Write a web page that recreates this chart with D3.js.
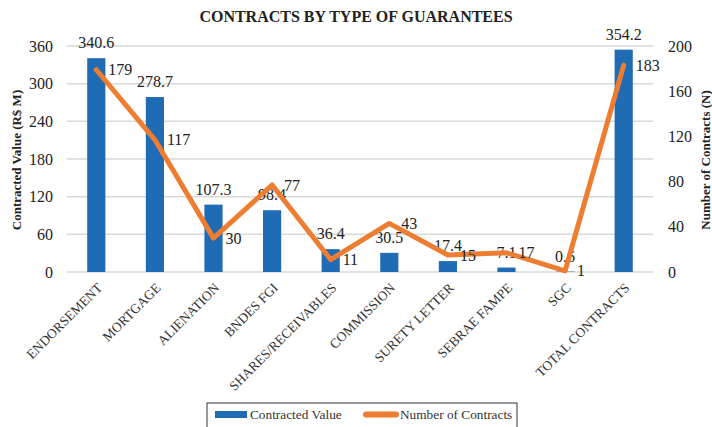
<!DOCTYPE html>
<html>
<head>
<meta charset="utf-8">
<script src="https://cdn.jsdelivr.net/npm/d3@7"></script>
<style>
  body { margin: 0; background: #fff; }
  svg text { font-family: "Liberation Serif", "Times New Roman", serif; fill: #222; }
</style>
</head>
<body>
<svg id="chart" width="712" height="427"></svg>
<script>
// datos del grafico
const categories = ["ENDORSEMENT", "MORTGAGE", "ALIENATION", "BNDES FGI", "SHARES/RECEIVABLES",
  "COMMISSION", "SURETY LETTER", "SEBRAE FAMPE", "SGC", "TOTAL CONTRACTS"];
const contractedValue = [340.6, 278.7, 107.3, 98.4, 36.4, 30.5, 17.4, 7.1, 0.6, 354.2];
const numberOfContracts = [179, 117, 30, 77, 11, 43, 15, 17, 1, 183];
const leftTicks = [0, 60, 120, 180, 240, 300, 360];
const rightTicks = [0, 40, 80, 120, 160, 200];

const blue = "#1f6cb5";
const orange = "#ed7d31";
const serif = "Liberation Serif";

const svg = d3.select("#chart");
const plotLeft = 67, plotRight = 653, plotTop = 46, plotBottom = 272;

const x = d3.scaleBand().domain(categories).range([plotLeft, plotRight]).paddingInner(0.69).paddingOuter(0.345);
const yL = d3.scaleLinear().domain([0, 360]).range([plotBottom, plotTop]);
const yR = d3.scaleLinear().domain([0, 200]).range([plotBottom, plotTop]);
const cx = d => x(d) + x.bandwidth() / 2;

// titulo
svg.append("text")
  .attr("x", 356).attr("y", 22)
  .attr("text-anchor", "middle")
  .style("font-size", "16px").style("font-weight", "bold")
  .text("CONTRACTS BY TYPE OF GUARANTEES");

// lineas de la grilla
svg.append("g").selectAll("line")
  .data(leftTicks)
  .enter().append("line")
  .attr("x1", plotLeft).attr("x2", plotRight)
  .attr("y1", d => yL(d)).attr("y2", d => yL(d))
  .style("stroke", "#d9d9d9").style("stroke-width", 1.5);

// eje izquierdo
const axL = svg.append("g").attr("transform", `translate(${plotLeft - 14},0)`)
  .call(d3.axisLeft(yL).tickValues(leftTicks).tickSize(0).tickPadding(0));
axL.select(".domain").remove();
axL.selectAll("text").style("font-size", "16px").style("font-family", serif).style("fill", "#222");

// eje derecho
const axR = svg.append("g").attr("transform", `translate(${plotRight + 15},0)`)
  .call(d3.axisRight(yR).tickValues(rightTicks).tickSize(0).tickPadding(0));
axR.select(".domain").remove();
axR.selectAll("text").style("font-size", "16px").style("font-family", serif).style("fill", "#222");

// titulos de ejes
svg.append("text")
  .attr("transform", `translate(21,160) rotate(-90)`)
  .attr("text-anchor", "middle")
  .style("font-size", "13px").style("font-weight", "bold")
  .text("Contracted Value (R$ M)");
svg.append("text")
  .attr("transform", `translate(710,160) rotate(-90)`)
  .attr("text-anchor", "middle")
  .style("font-size", "13px").style("font-weight", "bold")
  .text("Number of Contracts (N)");

// barras
svg.append("g").selectAll("rect")
  .data(categories)
  .enter().append("rect")
  .attr("x", d => x(d))
  .attr("width", x.bandwidth())
  .attr("y", (d, i) => yL(contractedValue[i]))
  .attr("height", (d, i) => plotBottom - yL(contractedValue[i]))
  .style("fill", blue);

// etiquetas de barras
svg.append("g").selectAll("text")
  .data(categories)
  .enter().append("text")
  .attr("x", d => cx(d))
  .attr("y", (d, i) => yL(contractedValue[i]) - 10)
  .attr("text-anchor", "middle")
  .style("font-size", "16px")
  .text((d, i) => contractedValue[i]);

// linea
const line = d3.line()
  .x(d => cx(d))
  .y((d, i) => yR(numberOfContracts[i]));
svg.append("path")
  .datum(categories)
  .attr("d", line)
  .style("fill", "none")
  .style("stroke", orange)
  .style("stroke-width", 5)
  .style("stroke-linejoin", "round")
  .style("stroke-linecap", "round");

// etiquetas de la linea
svg.append("g").selectAll("text")
  .data(categories)
  .enter().append("text")
  .attr("x", d => cx(d) + 12)
  .attr("y", (d, i) => yR(numberOfContracts[i]))
  .attr("dy", "0.35em")
  .style("font-size", "16px")
  .text((d, i) => numberOfContracts[i]);

// etiquetas de categorias
svg.append("g").selectAll("text")
  .data(categories)
  .enter().append("text")
  .attr("transform", d => `translate(${cx(d)},${plotBottom + 10}) rotate(-45)`)
  .attr("text-anchor", "end")
  .attr("dy", "0.7em")
  .style("font-size", "13.5px")
  .style("fill", "#333")
  .text(d => d);

// leyenda
const lg = svg.append("g");
lg.append("rect")
  .attr("x", 207).attr("y", 403).attr("width", 310).attr("height", 30)
  .style("fill", "#fff").style("stroke", "#333").style("stroke-width", 1);
lg.append("rect")
  .attr("x", 215).attr("y", 411).attr("width", 32).attr("height", 7)
  .style("fill", blue);
lg.append("text").attr("x", 250).attr("y", 419).style("font-size", "13.3px").style("fill", "#333").text("Contracted Value");
lg.append("line")
  .attr("x1", 366).attr("x2", 396).attr("y1", 414.5).attr("y2", 414.5)
  .style("stroke", orange).style("stroke-width", 6).style("stroke-linecap", "round");
lg.append("text").attr("x", 400).attr("y", 419).style("font-size", "13.3px").style("fill", "#333").text("Number of Contracts");
</script>
</body>
</html>
